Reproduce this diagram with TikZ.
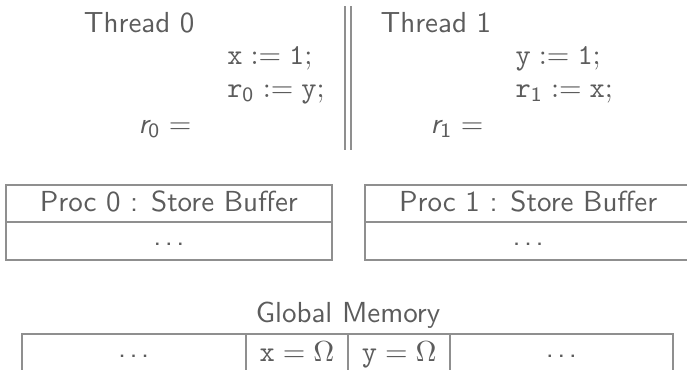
\documentclass[tikz,border=0pt]{standalone}
\definecolor{txtgray}{gray}{0.36}
\definecolor{rulegray}{gray}{0.56}
\newcommand\pxu{0.345pt}
\tikzset{
  lbl/.style={text=txtgray, inner sep=0pt, anchor=base west, font=\sffamily},
  code/.style={text=txtgray, inner sep=0pt, anchor=base west},
  rulel/.style={draw=rulegray, line width=0.7pt},
  cell/.style={rulel, text=txtgray, font=\sffamily, inner sep=0pt, outer sep=0pt,
    text height=7pt, text depth=1.4pt, anchor=north west},
  dotcell/.style={cell, text height=3pt, text depth=0pt},
}
\newcommand\celldots{.\kern0.12em.\kern0.12em.}
\begin{document}
\begin{tikzpicture}[x=\pxu, y=-\pxu]
\useasboundingbox (0,0) rectangle (687,369);
\clip (0,0) rectangle (687,369);

% thread 0
\node[lbl]  (t0)  at (83.3,32)  {Thread 0};
\node[code] (t0a) at (226.7,64) {$\mathtt{x} := \mathtt{1;}$};
\node[code] (t0b) at (226.7,97) {$\mathtt{r}_{\mathsf{0}} := \mathtt{y;}$};
\node[code] (t0r) at (138,133)  {$\textsf{\itshape r}_{\mathsf{0}} =$};

% separator between the threads
\coordinate (sepA1) at (344.7,6);
\coordinate (sepA2) at (344.7,150);
\coordinate (sepB1) at (351,6);
\coordinate (sepB2) at (351,150);
\draw[rulel] (sepA1) -- (sepA2);
\draw[rulel] (sepB1) -- (sepB2);

% thread 1
\node[lbl]  (t1)  at (380,32)  {Thread 1};
\node[code] (t1a) at (515,64)  {$\mathtt{y} := \mathtt{1;}$};
\node[code] (t1b) at (515,97)  {$\mathtt{r}_{\mathsf{1}} := \mathtt{x;}$};
\node[code] (t1r) at (430,133) {$\textsf{\itshape r}_{\mathsf{1}} =$};

% store buffers
\node[cell, minimum width=326.3*\pxu, minimum height=37*\pxu] (p0h) at (5.7,185) {Proc 0 : Store Buffer};
\node[dotcell, minimum width=326.3*\pxu, minimum height=38*\pxu] (p0b) at (p0h.south west) {\celldots};
\node[cell, minimum width=326.3*\pxu, minimum height=37*\pxu] (p1h) at (365,185) {Proc 1 : Store Buffer};
\node[dotcell, minimum width=326.3*\pxu, minimum height=38*\pxu] (p1b) at (p1h.south west) {\celldots};

% global memory
\node[lbl, anchor=base] (gm) at (348,322) {Global Memory};
\node[dotcell, minimum width=224*\pxu, minimum height=38*\pxu] (m0) at (21.7,334) {\celldots};
\node[cell, minimum width=102.6*\pxu, minimum height=38*\pxu] (m1) at (m0.north east) {$\mathtt{x} = \Omega$};
\node[cell, minimum width=101.7*\pxu, minimum height=38*\pxu] (m2) at (m1.north east) {$\mathtt{y} = \Omega$};
\node[dotcell, minimum width=223*\pxu, minimum height=38*\pxu] (m3) at (m2.north east) {\celldots};
\end{tikzpicture}
\end{document}
